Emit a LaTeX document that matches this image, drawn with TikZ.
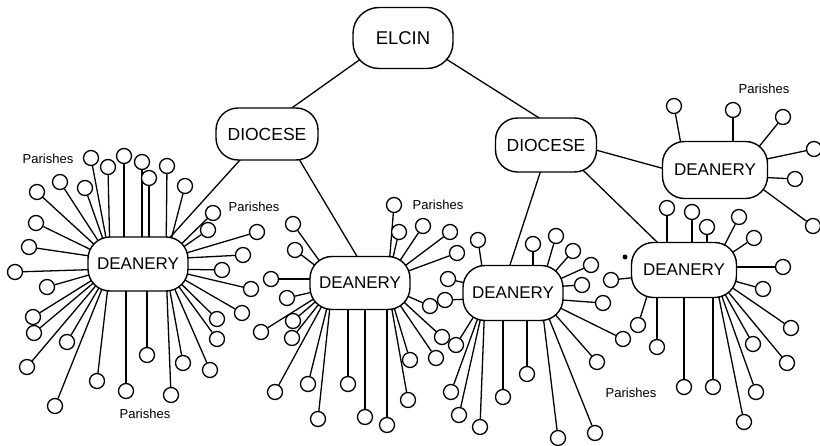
\documentclass[tikz,border=0pt]{standalone}
\usepackage{fontspec}
\setmainfont{Liberation Sans}
\usetikzlibrary{shapes.misc}
\pgfdeclarelayer{back}
\pgfdeclarelayer{bg}
\pgfsetlayers{back,bg,main}
\tikzset{
  box/.style={draw, line width=1.4pt, rectangle, rounded corners=22pt, fill=white, inner sep=0pt,
    font=\fontsize{17}{20}\selectfont},
  par/.style={draw, circle, line width=1.3pt, minimum size=15pt, inner sep=0pt, fill=white},
  spoke/.style={line width=1.3pt},
  link/.style={line width=1.3pt, shorten <=-10pt, shorten >=-10pt},
  lbl/.style={font=\fontsize{13}{15}\selectfont, inner sep=0pt},
}
% #1 node name, #2 cx, #3 cy, #4 clamp x, #5 clamp y, #6 list of circle positions
\newcommand\spokeset[6]{%
  \foreach \ux/\uy [count=\i] in {#6} {
    \node[par] (#1p\i) at (\ux,\uy) {};
    \pgfmathsetmacro\qx{max(-#4,min(#4,\ux-#2))}
    \pgfmathsetmacro\qy{max(-#5,min(#5,\uy-#3))}
    \draw[spoke] (#1p\i) -- ([shift={(\qx,\qy)}]#1.center);
  }
}
\begin{document}
\begin{tikzpicture}[x=1pt,y=-1pt]
\useasboundingbox (0,0) rectangle (820,446);
\begin{pgfonlayer}{back}
\fill[white] (0,0) rectangle (820,446);
\end{pgfonlayer}

\node[box, rounded corners=26pt, minimum width=100pt, minimum height=61pt, font=\fontsize{18.5}{22}\selectfont] (elcin) at (403,38) {ELCIN};
\node[box, minimum width=102pt, minimum height=52pt, font=\fontsize{17.5}{21}\selectfont] (dioL) at (267,134) {DIOCESE};
\node[box, minimum width=101pt, minimum height=54pt, font=\fontsize{17.5}{21}\selectfont] (dioR) at (546,145) {DIOCESE};
\node[box, minimum width=100pt, minimum height=54pt] (dL) at (138,264) {DEANERY};
\node[box, minimum width=100pt, minimum height=53pt] (dM) at (360,283) {DEANERY};
\node[box, minimum width=100pt, minimum height=55pt] (dN) at (513,293) {DEANERY};
\node[box, minimum width=105pt, minimum height=55pt] (dR) at (684,270) {DEANERY};
\node[box, minimum width=105pt, minimum height=57pt] (dT) at (715,170) {DEANERY};

\node[lbl] (lab1) at (48,159) {Parishes};
\node[lbl] (lab2) at (254,207) {Parishes};
\node[lbl] (lab3) at (145,414) {Parishes};
\node[lbl] (lab4) at (438,205) {Parishes};
\node[lbl] (lab5) at (631,393) {Parishes};
\node[lbl] (lab6) at (764,89) {Parishes};

\fill (625,257) circle (2.5);

\begin{pgfonlayer}{bg}
\draw[link] (elcin.-152) -- (dioL.46);
\draw[link] (elcin.-27) -- (dioR.106);
\draw[link] (dioL.-136) -- (dL.40);
\draw[link] (dioL.-39) -- (dM.97);
\draw[link] (dioR.-102) -- (dN.96);
\draw[link] (dioR.-35) -- (dR.134);
\draw[link] (dioR.-6) -- (dT.178);

\spokeset{dL}{138}{264}{28}{5}{91/158, 108/167, 124/156, 142/162, 149/178, 167/166, 185/186, 60/182, 85/188, 37/192, 36/223, 29/247, 15/272, 47/287, 33/317, 34/333, 67/342, 27/367, 55/406, 97/381, 126/391, 147/355, 171/395, 183/363, 210/370, 217/339, 217/319, 242/313, 251/289, 222/270, 243/255, 257/232, 208/230, 213/213}
\spokeset{dM}{360}{283}{28}{4.5}{394/205, 399/232, 423/226, 450/232, 457/253, 293/224, 295/250, 271/279, 287/298, 293/321, 261/332, 292/338, 275/392, 308/384, 348/384, 318/419, 365/417, 387/425, 408/400, 410/360, 436/358, 442/337, 430/306}
\spokeset{dN}{513}{293}{28}{5.5}{478/240, 533/244, 556/236, 573/251, 591/265, 582/285, 603/303, 623/339, 597/362, 595/433, 558/438, 527/374, 503/397, 480/427, 459/415, 451/392, 456/345, 448/279, 445/300}
\spokeset{dR}{684}{270}{30.5}{5.5}{667/208, 692/212, 707/227, 739/217, 754/238, 783/267, 763/289, 791/328, 753/344, 787/363, 756/392, 744/422, 713/387, 684/387, 657/347, 638/325, 611/280}
\spokeset{dT}{715}{170}{30.5}{6.5}{674/106, 733/110, 783/117, 814/149, 795/179, 813/226}
\end{pgfonlayer}
\end{tikzpicture}
\end{document}
